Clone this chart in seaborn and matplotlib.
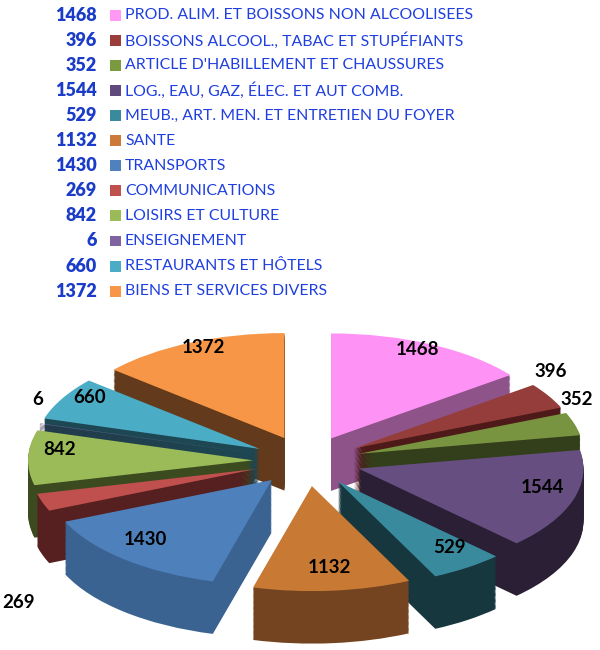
import numpy as np
import matplotlib
matplotlib.use("Agg")
import matplotlib.pyplot as plt
import seaborn as sns

# postes de depense (ordre du graphique, sens horaire depuis midi)
categories = [
    "PROD. ALIM. ET BOISSONS NON ALCOOLISEES",
    "BOISSONS ALCOOL., TABAC ET STUPÉFIANTS",
    "ARTICLE D'HABILLEMENT ET CHAUSSURES",
    "LOG., EAU, GAZ, ÉLEC. ET AUT COMB.",
    "MEUB., ART. MEN. ET ENTRETIEN DU FOYER",
    "SANTE",
    "TRANSPORTS",
    "COMMUNICATIONS",
    "LOISIRS ET CULTURE",
    "ENSEIGNEMENT",
    "RESTAURANTS ET HÔTELS",
    "BIENS ET SERVICES DIVERS",
]
values = [1468, 396, 352, 1544, 529, 1132, 1430, 269, 842, 6, 660, 1372]

top_colors = sns.color_palette([
    "#FF92F5", "#953D3B", "#789440", "#664E80", "#3A8A9D", "#C87A35",
    "#4E80BB", "#C0504D", "#9BBB59", "#8064A2", "#4BACC6", "#F79646",
])
wall_colors = sns.color_palette([
    "#8E5389", "#4E1A19", "#333F1B", "#2A1F35", "#17373F", "#744420",
    "#3B6392", "#55201F", "#3C4A20", "#2F2540", "#1D4752", "#633A1B",
])
legend_colors = sns.color_palette([
    "#FF99F5", "#9B3D3B", "#7A9A40", "#604A7B", "#3A8A9D", "#CC7A38",
    "#4F81BD", "#C0504D", "#9BBB59", "#8064A2", "#4BACC6", "#F79646",
])

sns.set_theme(style="white")
plt.rcParams["font.family"] = ["Lato", "DejaVu Sans"]

fig = plt.figure(figsize=(6, 6.5), dpi=100)

# ---- legende ----
ax_leg = fig.add_axes([0, 1 - 305 / 650, 1, 305 / 650])
ax_leg.set_xlim(0, 600)
ax_leg.set_ylim(11.55, -0.6)
ax_leg.axis("off")
rows = np.arange(len(values))
ax_leg.scatter(np.full(len(rows), 115.5), rows, marker="s", s=62,
               c=legend_colors, linewidths=0)
for i, (v, lab) in enumerate(zip(values, categories)):
    ax_leg.text(97, i, str(v), ha="right", va="center", fontsize=13,
                fontweight="heavy", color="#1A3CC8")
    ax_leg.text(125, i, lab, ha="left", va="center", fontsize=11.4,
                color="#1F3FE0")

# ---- camembert 3D eclate ----
cx, cy = 307, 461      # centre en pixels
a_px, b_px = 225, 105  # demi-axes en pixels
ax = fig.add_axes([0, 0, 1, 340 / 650])

total = sum(values)
explode = [0.24] * len(values)
depth = 0.5
n_layers = 44

frac = np.array(values) / total
cum = np.cumsum(frac) - frac
mid = np.deg2rad(90 - 360 * (cum + frac / 2))
# ordre d'affichage : de l'arriere vers l'avant
rank = np.empty(len(values), dtype=int)
rank[np.argsort(-np.sin(mid))] = np.arange(len(values))

for k in range(n_layers + 1):
    dy = -depth + depth * k / n_layers
    is_top = k == n_layers
    wedges, _ = ax.pie(values, explode=explode, startangle=90, counterclock=False,
                       colors=top_colors if is_top else wall_colors,
                       center=(0, dy), radius=1,
                       wedgeprops=dict(linewidth=0, antialiased=True))
    for i, w in enumerate(wedges):
        w.set_zorder(1 + rank[i] * (n_layers + 2) + k)

for i, v in enumerate(values):
    c, s = np.cos(mid[i]), np.sin(mid[i])
    if frac[i] > 0.045:
        x, y = 1.1 * c, 1.1 * s + 0.08
    elif s > 0:
        x, y = 1.25 * c, 1.25 * s + 0.23
    else:
        x, y = 1.35 * c, 1.35 * s - depth - 0.42
    ax.text(x, y, str(v), ha="center", va="center", fontsize=13.5,
            fontweight="bold", color="black", zorder=1000)

ax.set_aspect("auto")
ax.set_xlim(-cx / a_px, (600 - cx) / a_px)
ax.set_ylim((cy - 650) / b_px, (cy - 310) / b_px)
ax.axis("off")

fig.savefig("out.png", dpi=100)
